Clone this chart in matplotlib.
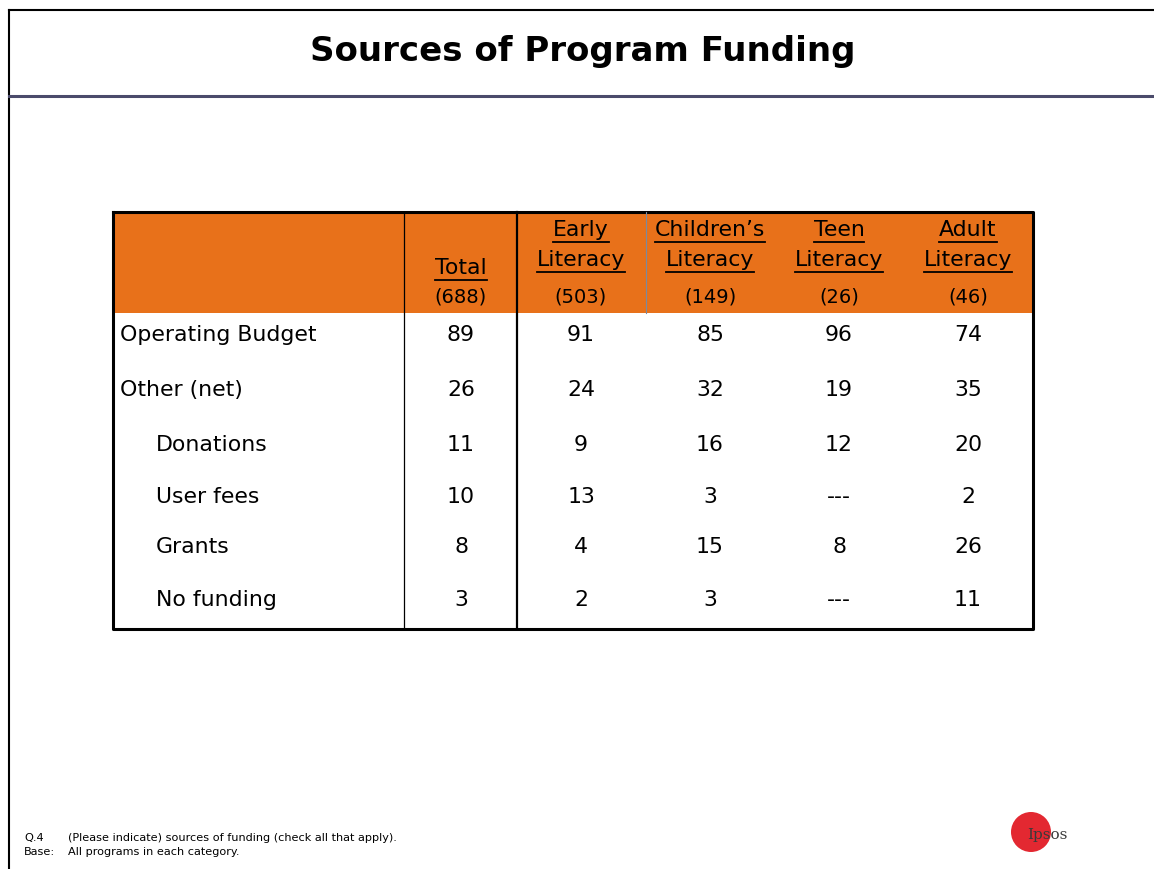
import matplotlib
matplotlib.use("Agg")
import matplotlib.pyplot as plt
from matplotlib.patches import Rectangle, Circle

# table data
rows = ["Operating Budget", "Other (net)", "Donations", "User fees", "Grants", "No funding"]
indent = [False, False, True, True, True, True]
col_names = ["Total", "Early\nLiteracy", "Children\u2019s\nLiteracy", "Teen\nLiteracy", "Adult\nLiteracy"]
bases = ["(688)", "(503)", "(149)", "(26)", "(46)"]
values = [
    ["89", "91", "85", "96", "74"],
    ["26", "24", "32", "19", "35"],
    ["11", "9", "16", "12", "20"],
    ["10", "13", "3", "---", "2"],
    ["8", "4", "15", "8", "26"],
    ["3", "2", "3", "---", "11"],
]

W, H = 1154, 869
fig = plt.figure(figsize=(W / 100, H / 100), dpi=100)
ax = fig.add_axes([0, 0, 1, 1])
ax.set_xlim(0, W)
ax.set_ylim(H, 0)
ax.axis("off")

font = "DejaVu Sans"
orange = "#E8711A"

# slide frame
ax.plot([9, 9], [10, H], color="black", lw=1.5)
ax.plot([9, W], [10, 10], color="black", lw=1.5)
ax.plot([9, W], [96, 96], color="#4B4B6B", lw=2.2)
ax.text(583, 52, "Sources of Program Funding", ha="center", va="center",
        fontsize=24.5, fontweight="bold", family=font)

# table geometry
x0, x1 = 113, 1033
y_top, y_head, y_bot = 212, 313, 629
col_x = [461, 581, 710, 839, 968]
row_y = [335, 390, 445, 497, 547, 600]

ax.add_patch(Rectangle((x0, y_top), x1 - x0, y_head - y_top, color=orange, lw=0, zorder=1))
ax.plot([x0, x1, x1, x0, x0], [y_top, y_top, y_bot, y_bot, y_top], color="black", lw=2.2, zorder=3)
ax.plot([404, 404], [y_top, y_bot], color="black", lw=0.9, zorder=3)
ax.plot([517, 517], [y_top, y_bot], color="black", lw=1.6, zorder=3)
ax.plot([646, 646], [y_top, y_head], color="#7A8AA0", lw=0.8, zorder=3)

fs = 15.8
fig.canvas.draw()
renderer = fig.canvas.get_renderer()
inv = ax.transData.inverted()

for cx, name, base in zip(col_x, col_names, bases):
    lines = name.split("\n")
    ys = [268] if len(lines) == 1 else [230, 260]
    for ly, ln in zip(ys, lines):
        t = ax.text(cx, ly, ln, ha="center", va="center", fontsize=fs, family=font, zorder=4)
        bb = t.get_window_extent(renderer)
        (ax_l, ay), (ax_r, _) = inv.transform([[bb.x0, bb.y0], [bb.x1, bb.y0]])
        ax.plot([ax_l, ax_r], [ly + 12, ly + 12], color="black", lw=1.3, zorder=4)
    ax.text(cx, 297, base, ha="center", va="center", fontsize=14, family=font, zorder=4)

for ry, label, ind, vals in zip(row_y, rows, indent, values):
    ax.text(156 if ind else 120, ry, label, ha="left", va="center", fontsize=fs, family=font)
    for cx, v in zip(col_x, vals):
        ax.text(cx, ry, v, ha="center", va="center", fontsize=fs, family=font)

# footnote
fn = 8.1
ax.text(24, 838, "Q.4", fontsize=fn, family=font, va="center")
ax.text(68, 838, "(Please indicate) sources of funding (check all that apply).", fontsize=fn, family=font, va="center")
ax.text(24, 852, "Base:", fontsize=fn, family=font, va="center")
ax.text(68, 852, "All programs in each category.", fontsize=fn, family=font, va="center")

# logo
ax.add_patch(Circle((1031, 832), 20, color="#E0101A", lw=0, alpha=0.9))
ax.text(1027, 835, "Ipsos", fontsize=11, color="#3A3A3A", family="DejaVu Serif", va="center", ha="left")

fig.savefig("out.png", dpi=100)
